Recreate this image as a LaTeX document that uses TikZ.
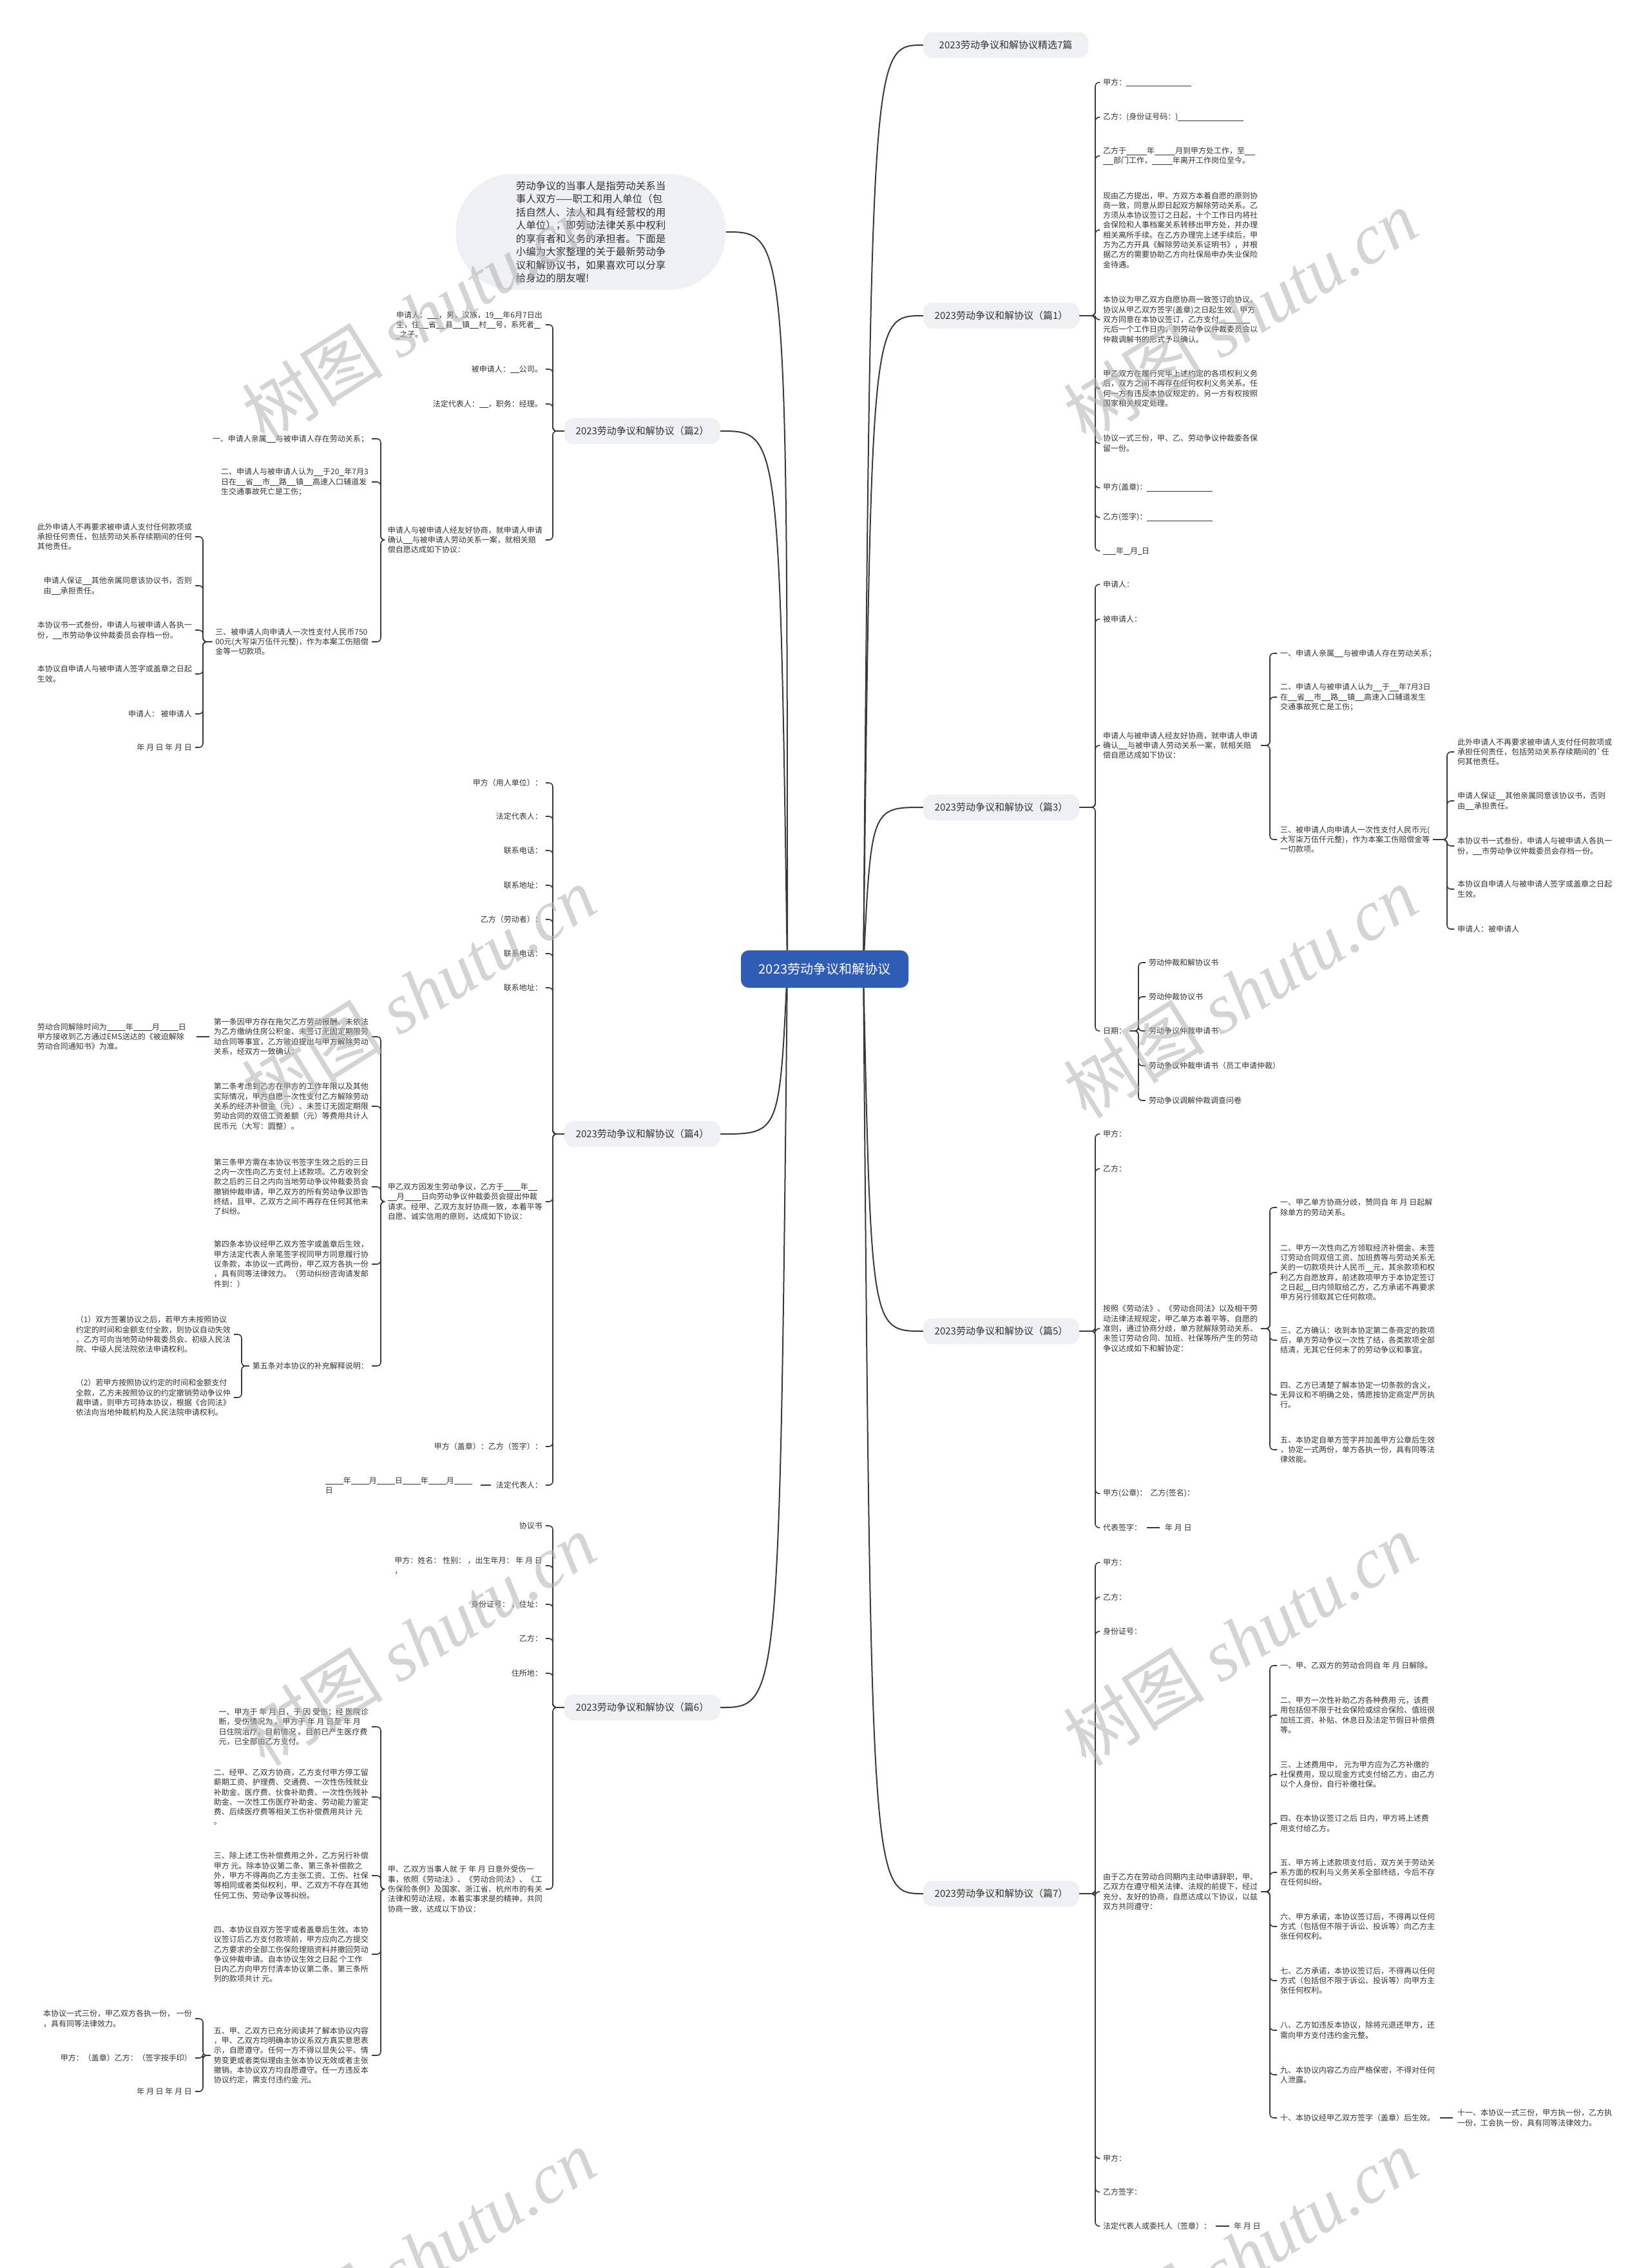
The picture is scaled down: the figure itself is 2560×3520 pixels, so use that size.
\documentclass[tikz,border=0pt]{standalone}
\usepackage{fontspec}
\setmainfont{Noto Sans CJK SC}
\newfontfamily\wmlatin{Liberation Serif}
\pgfdeclarelayer{bg}
\pgfsetlayers{bg,main}
\definecolor{txt}{HTML}{333333}
\definecolor{lnc}{HTML}{3A3A3A}
\definecolor{bgc}{HTML}{EEF0F3}
\definecolor{blu}{HTML}{2F5DB6}
\newcommand\blk[1]{\rule[-1.5pt]{#1pt}{0.6pt}}
\newcommand\rconn[3]{\draw[link] (#1.east) -- (#1.east -| #3) |- (#2.west);}
\newcommand\lconn[3]{\draw[link] (#1.west) -- (#1.west -| #3) |- (#2.east);}
\tikzset{
 leaf/.style={inner xsep=5pt, inner ysep=1pt, align=left, text=txt, font=\fontsize{12}{15.3}\selectfont},
 lr/.style={leaf, anchor=west},
 lf/.style={leaf, anchor=east},
 branch/.style={fill=bgc, rounded corners=14pt, minimum width=242pt, minimum height=40pt, text=txt, font=\fontsize{15}{18}\selectfont, inner sep=0pt},
 root/.style={fill=blu, text=white, rounded corners=12pt, minimum width=260pt, minimum height=58pt, font=\fontsize{20}{24}\selectfont},
 bubble/.style={fill=bgc, rounded corners=88pt, minimum width=419pt, minimum height=180pt, align=left, text=txt, font=\fontsize{15.5}{20.5}\selectfont},
 link/.style={draw=lnc, line width=1.6pt, rounded corners=6pt},
 mainlink/.style={draw=lnc, line width=2pt},
 wm/.style={text=black!30, opacity=0.55, font=\fontsize{110}{120}\selectfont, rotate=32}
}
\begin{document}
\begin{tikzpicture}[x=1pt,y=-1pt]
\useasboundingbox (0,0) rectangle (2560,3520);
% spines
\coordinate (s1) at (1700,0);
\coordinate (s2) at (1971,0);
\coordinate (s3) at (2246,0);
\coordinate (s4) at (1767,0);
\coordinate (t1) at (858,0);
\coordinate (t2) at (591,0);
\coordinate (t3) at (315,0);
\coordinate (t4) at (375,0);

% root, intro, branches
\node[root] (root) at (1280,1504) {2023劳动争议和解协议};
\node[bubble] (intro) at (917,360) {劳动争议的当事人是指劳动关系当\\事人双方——职工和用人单位（包\\括自然人、法人和具有经营权的用\\人单位），即劳动法律关系中权利\\的享有者和义务的承担者。下面是\\小编为大家整理的关于最新劳动争\\议和解协议书，如果喜欢可以分享\\给身边的朋友喔!};
\node[branch, minimum width=256pt] (top) at (1561,70) {2023劳动争议和解协议精选7篇};
\node[branch] (p1) at (1554,490) {2023劳动争议和解协议（篇1）};
\node[branch] (p3) at (1554,1253) {2023劳动争议和解协议（篇3）};
\node[branch] (p5) at (1554,2066) {2023劳动争议和解协议（篇5）};
\node[branch] (p7) at (1554,2939) {2023劳动争议和解协议（篇7）};
\node[branch] (p2) at (997,669) {2023劳动争议和解协议（篇2）};
\node[branch] (p4) at (997,1760) {2023劳动争议和解协议（篇4）};
\node[branch] (p6) at (997,2650) {2023劳动争议和解协议（篇6）};

% ---------- 篇1 ----------
\node[lr] (a1) at (1707,128) {甲方：\blk{101}};
\node[lr] (a2) at (1707,182) {乙方：(身份证号码：)\blk{102}};
\node[lr] (a3) at (1707,242) {乙方于\blk{32}年\blk{32}月到甲方处工作，至\blk{16}\\\blk{16}部门工作，\blk{32}年离开工作岗位至今。};
\node[lr] (a4) at (1707,357) {现由乙方提出，甲、方双方本着自愿的原则协\\商一致，同意从即日起双方解除劳动关系。乙\\方须从本协议签订之日起，十个工作日内将社\\会保险和人事档案关系转移出甲方处，并办理\\相关离所手续。在乙方办理完上述手续后，甲\\方为乙方开具《解除劳动关系证明书》，并根\\据乙方的需要协助乙方向社保局申办失业保险\\金待遇。};
\node[lr] (a5) at (1707,496) {本协议为甲乙双方自愿协商一致签订的协议。\\协议从甲乙双方签字(盖章)之日起生效。甲方\\双方同意在本协议签订，乙方支付\blk{48}\\元后一个工作日内，到劳动争议仲裁委员会以\\仲裁调解书的形式予以确认。};
\node[lr] (a6) at (1707,603) {甲乙双方在履行完毕上述约定的各项权利义务\\后，双方之间不再存在任何权利义务关系。任\\何一方有违反本协议规定的，另一方有权按照\\国家相关规定处理。};
\node[lr] (a7) at (1707,688) {协议一式三份，甲、乙、劳动争议仲裁委各保\\留一份。};
\node[lr] (a8) at (1707,757) {甲方(盖章)：\blk{102}};
\node[lr] (a9) at (1707,803) {乙方(签字)：\blk{102}};
\node[lr] (a10) at (1707,855) {\blk{20}年\blk{10}月\blk{6}日};

% ---------- 篇2 ----------
\node[lf] (b1) at (847,504) {申请人：\blk{18}，男，汉族，19\blk{14}年6月7日出\\生，住\blk{14}省\blk{14}县\blk{14}镇\blk{14}村\blk{14}号，系死者\blk{10}\\\blk{5}之子。};
\node[lf] (b2) at (847,573) {被申请人：\blk{14}公司。};
\node[lf] (b3) at (847,627) {法定代表人：\blk{14}，职务：经理。};
\node[lf] (b4) at (847,838) {申请人与被申请人经友好协商，就申请人申请\\确认\blk{14}与被申请人劳动关系一案，就相关赔\\偿自愿达成如下协议：};
\node[lf] (b4a) at (577,681) {一、申请人亲属\blk{14}与被申请人存在劳动关系；};
\node[lf] (b4b) at (577,748) {二、申请人与被申请人认为\blk{14}于20\blk{8}年7月3\\日在\blk{14}省\blk{14}市\blk{14}路\blk{14}镇\blk{14}高速入口辅道发\\生交通事故死亡是工伤；};
\node[lf] (b4c) at (577,996) {三、被申请人向申请人一次性支付人民币750\\00元(大写柒万伍仟元整)，作为本案工伤赔偿\\金等一切款项。};
\node[lf] (b4c1) at (303,833) {此外申请人不再要求被申请人支付任何款项或\\承担任何责任，包括劳动关系存续期间的任何\\其他责任。};
\node[lf] (b4c2) at (303,909) {申请人保证\blk{14}其他亲属同意该协议书，否则\\由\blk{14}承担责任。};
\node[lf] (b4c3) at (303,978) {本协议书一式叁份，申请人与被申请人各执一\\份，\blk{14}市劳动争议仲裁委员会存档一份。};
\node[lf] (b4c4) at (303,1046) {本协议自申请人与被申请人签字或盖章之日起\\生效。};
\node[lf] (b4c5) at (303,1108) {申请人：\ 被申请人};
\node[lf] (b4c6) at (303,1160) {年 月 日 年 月 日};

% ---------- 篇3 ----------
\node[lr] (c1) at (1707,907) {申请人：};
\node[lr] (c2) at (1707,961) {被申请人：};
\node[lr] (c3) at (1707,1157) {申请人与被申请人经友好协商，就申请人申请\\确认\blk{14}与被申请人劳动关系一案，就相关赔\\偿自愿达成如下协议：};
\node[lr] (c4) at (1707,1600) {日期：};
\node[lr] (c3a) at (1982,1014) {一、申请人亲属\blk{14}与被申请人存在劳动关系；};
\node[lr] (c3b) at (1982,1082) {二、申请人与被申请人认为\blk{14}于\blk{14}年7月3日\\在\blk{14}省\blk{14}市\blk{14}路\blk{14}镇\blk{14}高速入口辅道发生\\交通事故死亡是工伤；};
\node[lr] (c3c) at (1982,1303) {三、被申请人向申请人一次性支付人民币元(\\大写柒万伍仟元整)，作为本案工伤赔偿金等\\一切款项。};
\node[lr] (c3c1) at (2257,1167) {此外申请人不再要求被申请人支付任何款项或\\承担任何责任，包括劳动关系存续期间的\textasciigrave 任\\何其他责任。};
\node[lr] (c3c2) at (2257,1243) {申请人保证\blk{14}其他亲属同意该协议书，否则\\由\blk{14}承担责任。};
\node[lr] (c3c3) at (2257,1313) {本协议书一式叁份，申请人与被申请人各执一\\份，\blk{14}市劳动争议仲裁委员会存档一份。};
\node[lr] (c3c4) at (2257,1380) {本协议自申请人与被申请人签字或盖章之日起\\生效。};
\node[lr] (c3c5) at (2257,1442) {申请人：被申请人};
\node[lr] (c4a) at (1778,1494) {劳动仲裁和解协议书};
\node[lr] (c4b) at (1778,1547) {劳动仲裁协议书};
\node[lr] (c4c) at (1778,1600) {劳动争议仲裁申请书};
\node[lr] (c4d) at (1778,1654) {劳动争议仲裁申请书（员工申请仲裁）};
\node[lr] (c4e) at (1778,1708) {劳动争议调解仲裁调查问卷};

% ---------- 篇4 ----------
\node[lf] (d1) at (847,1215) {甲方（用人单位）：};
\node[lf] (d2) at (847,1267) {法定代表人：};
\node[lf] (d3) at (847,1320) {联系电话：};
\node[lf] (d4) at (847,1374) {联系地址：};
\node[lf] (d5) at (847,1427) {乙方（劳动者）：};
\node[lf] (d6) at (847,1480) {联系电话：};
\node[lf] (d7) at (847,1533) {联系地址：};
\node[lf] (d8) at (847,1865) {甲乙双方因发生劳动争议，乙方于\blk{26}年\blk{14}\\\blk{14}月\blk{26}日向劳动争议仲裁委员会提出仲裁\\请求。经甲、乙双方友好协商一致，本着平等\\自愿、诚实信用的原则，达成如下协议：};
\node[lf] (d9) at (847,2245) {甲方（盖章）：乙方（签字）：};
\node[lf] (d10) at (847,2305) {法定代表人：};
\node[lf] (d8a) at (577,1609) {第一条因甲方存在拖欠乙方劳动报酬、未依法\\为乙方缴纳住房公积金、未签订无固定期限劳\\动合同等事宜，乙方被迫提出与甲方解除劳动\\关系，经双方一致确认：};
\node[lf] (d8b) at (577,1717) {第二条考虑到乙方在甲方的工作年限以及其他\\实际情况，甲方自愿一次性支付乙方解除劳动\\关系的经济补偿金（元）、未签订无固定期限\\劳动合同的双倍工资差额（元）等费用共计人\\民币元（大写：圆整）。};
\node[lf] (d8c) at (577,1842) {第三条甲方需在本协议书签字生效之后的三日\\之内一次性向乙方支付上述款项。乙方收到全\\款之后的三日之内向当地劳动争议仲裁委员会\\撤销仲裁申请，甲乙双方的所有劳动争议即告\\终结，且甲、乙双方之间不再存在任何其他未\\了纠纷。};
\node[lf] (d8d) at (577,1962) {第四条本协议经甲乙双方签字或盖章后生效，\\甲方法定代表人亲笔签字视同甲方同意履行协\\议条款，本协议一式两份，甲乙双方各执一份\\，具有同等法律效力。（劳动纠纷咨询请发邮\\件到：）};
\node[lf] (d8e) at (577,2120) {第五条对本协议的补充解释说明：};
\node[lf] (d8a1) at (294,1609) {劳动合同解除时间为\blk{29}年\blk{29}月\blk{29}日\\甲方接收到乙方通过EMS送达的《被迫解除\\劳动合同通知书》为准。};
\node[lf] (d8e1) at (363,2071) {（1）双方签署协议之后，若甲方未按照协议\\约定的时间和金额支付全款，则协议自动失效\\，乙方可向当地劳动仲裁委员会、初级人民法\\院、中级人民法院依法申请权利。};
\node[lf] (d8e2) at (363,2169) {（2）若甲方按照协议约定的时间和金额支付\\全款，乙方未按照协议的约定撤销劳动争议仲\\裁申请，则甲方可持本协议，根据《合同法》\\依法向当地仲裁机构及人民法院申请权利。};
\node[lf] (d10a) at (738,2305) {\blk{28}年\blk{28}月\blk{28}日\blk{28}年\blk{28}月\blk{28}\\日};

% ---------- 篇5 ----------
\node[lr] (e1) at (1707,1760) {甲方：};
\node[lr] (e2) at (1707,1814) {乙方：};
\node[lr] (e3) at (1707,2062) {按照《劳动法》、《劳动合同法》以及相干劳\\动法律法规规定，甲乙单方本着平等、自愿的\\准则，通过协商分歧，单方就解除劳动关系、\\未签订劳动合同、加班、社保等所产生的劳动\\争议达成如下和解协定：};
\node[lr] (e4) at (1707,2318) {甲方(公章)：\ \ 乙方(签名)：};
\node[lr] (e5) at (1707,2371) {代表签字：};
\node[lr] (e5a) at (1803,2371) {年 月 日};
\node[lr] (e3a) at (1982,1874) {一、甲乙单方协商分歧，赞同自 年 月 日起解\\除单方的劳动关系。};
\node[lr] (e3b) at (1982,1975) {二、甲方一次性向乙方领取经济补偿金、未签\\订劳动合同双倍工资、加班费等与劳动关系无\\关的一切款项共计人民币\blk{12}元，其余款项和权\\利乙方自愿放弃，前述款项甲方于本协定签订\\之日起\blk{12}日内领取给乙方，乙方承诺不再要求\\甲方另行领取其它任何款项。};
\node[lr] (e3c) at (1982,2080) {三、乙方确认：收到本协定第二条商定的款项\\后，单方劳动争议一次性了结，各类款项全部\\结清，无其它任何未了的劳动争议和事宜。};
\node[lr] (e3d) at (1982,2165) {四、乙方已清楚了解本协定一切条款的含义，\\无异议和不明确之处，情愿按协定商定严厉执\\行。};
\node[lr] (e3e) at (1982,2250) {五、本协定自单方签字并加盖甲方公章后生效\\，协定一式两份，单方各执一份，具有同等法\\律效能。};

% ---------- 篇6 ----------
\node[lf] (g1) at (847,2368) {协议书};
\node[lf] (g2) at (847,2430) {甲方：姓名：\ 性别：\ ，出生年月：\ 年 月 日\\，};
\node[lf] (g3) at (847,2490) {身份证号：\ ，住址：};
\node[lf] (g4) at (847,2543) {乙方：};
\node[lf] (g5) at (847,2597) {住所地：};
\node[lf] (g6) at (847,2932) {甲、乙双方当事人就 于 年 月 日意外受伤一\\事，依照《劳动法》、《劳动合同法》、《工\\伤保险条例》及国家、浙江省、杭州市的有关\\法律和劳动法规，本着实事求是的精神，共同\\协商一致，达成以下协议：};
\node[lf] (g6a) at (577,2680) {一、甲方于 年 月 日，于 因 受伤；经 医院诊\\断，受伤情况为 。甲方于 年 月 日至 年 月\\日住院治疗，目前情况 。目前已产生医疗费\\元，已全部由乙方支付。};
\node[lf] (g6b) at (577,2789) {二、经甲、乙双方协商，乙方支付甲方停工留\\薪期工资、护理费、交通费、一次性伤残就业\\补助金、医疗费、伙食补助费、一次性伤残补\\助金、一次性工伤医疗补助金、劳动能力鉴定\\费、后续医疗费等相关工伤补偿费用共计 元\\。};
\node[lf] (g6c) at (577,2911) {三、除上述工伤补偿费用之外，乙方另行补偿\\甲方 元。除本协议第二条、第三条补偿款之\\外，甲方不得再向乙方主张工资、工伤、社保\\等相同或者类似权利，甲、乙双方不存在其他\\任何工伤、劳动争议等纠纷。};
\node[lf] (g6d) at (577,3033) {四、本协议自双方签字或者盖章后生效。本协\\议签订后乙方支付款项前，甲方应向乙方提交\\乙方要求的全部工伤保险理赔资料并撤回劳动\\争议仲裁申请。自本协议生效之日起 个工作\\日内乙方向甲方付清本协议第二条、第三条所\\列的款项共计 元。};
\node[lf] (g6e) at (577,3190) {五、甲、乙双方已充分阅读并了解本协议内容\\，甲、乙双方均明确本协议系双方真实意思表\\示，自愿遵守。任何一方不得以显失公平、情\\势变更或者类似理由主张本协议无效或者主张\\撤销。本协议双方均自愿遵守。任一方违反本\\协议约定，需支付违约金 元。};
\node[lf] (g6e1) at (303,3133) {本协议一式三份，甲乙双方各执一份，\ 一份\\，具有同等法律效力。};
\node[lf] (g6e2) at (303,3194) {甲方：（盖章）乙方：（签字按手印）};
\node[lf] (g6e3) at (303,3246) {年 月 日 年 月 日};

% ---------- 篇7 ----------
\node[lr] (f1) at (1707,2425) {甲方：};
\node[lr] (f2) at (1707,2479) {乙方：};
\node[lr] (f3) at (1707,2532) {身份证号：};
\node[lr] (f4) at (1707,2936) {由于乙方在劳动合同期内主动申请辞职，甲、\\乙双方在遵守相关法律、法规的前提下，经过\\充分、友好的协商，自愿达成以下协议，以兹\\双方共同遵守：};
\node[lr] (f5) at (1707,3350) {甲方：};
\node[lr] (f6) at (1707,3402) {乙方签字：};
\node[lr] (f7) at (1707,3455) {法定代表人或委托人（签章）：};
\node[lr] (f7a) at (1910,3455) {年 月 日};
\node[lr] (f4a) at (1982,2585) {一、甲、乙双方的劳动合同自 年 月 日解除。};
\node[lr] (f4b) at (1982,2662) {二、甲方一次性补助乙方各种费用 元，该费\\用包括但不限于社会保险或综合保险、值班很\\加班工资、补贴、休息日及法定节假日补偿费\\等。};
\node[lr] (f4c) at (1982,2754) {三、上述费用中， 元为甲方应为乙方补缴的\\社保费用，现以现金方式支付给乙方，由乙方\\以个人身份，自行补缴社保。};
\node[lr] (f4d) at (1982,2830) {四、在本协议签订之后 日内，甲方将上述费\\用支付给乙方。};
\node[lr] (f4e) at (1982,2906) {五、甲方将上述款项支付后，双方关于劳动关\\系方面的权利与义务关系全部终结，今后不存\\在任何纠纷。};
\node[lr] (f4f) at (1982,2990) {六、甲方承诺，本协议签订后，不得再以任何\\方式（包括但不限于诉讼、投诉等）向乙方主\\张任何权利。};
\node[lr] (f4g) at (1982,3074) {七、乙方承诺，本协议签订后，不得再以任何\\方式（包括但不限于诉讼、投诉等）向甲方主\\张任何权利。};
\node[lr] (f4h) at (1982,3151) {八、乙方如违反本协议，除将元退还甲方，还\\需向甲方支付违约金元整。};
\node[lr] (f4i) at (1982,3220) {九、本协议内容乙方应严格保密，不得对任何\\人泄露。};
\node[lr] (f4j) at (1982,3287) {十、本协议经甲乙双方签字（盖章）后生效。};
\node[lr] (f4j1) at (2257,3287) {十一、本协议一式三份，甲方执一份，乙方执\\一份，工会执一份，具有同等法律效力。};

% ---------- connectors ----------
\begin{pgfonlayer}{bg}
\fill[white] (0,0) rectangle (2560,3520);
% main curves
\draw[mainlink] (1340,1504) .. controls (1352,70) .. (top.west);
\foreach \b/\y in {p1/490,p3/1253,p5/2066,p7/2939}
  \draw[mainlink] (1340,1504) .. controls (1352,\y) .. (\b.west);
\foreach \b/\y in {p2/669,p4/1760,p6/2650}
  \draw[mainlink] (1222,1504) .. controls (1210,\y) .. (\b.east);
\draw[mainlink] (intro.east) .. controls (1222,360) .. (1222,1504);
% 篇1
\foreach \c in {a1,a2,a3,a4,a5,a6,a7,a8,a9,a10} {\rconn{p1}{\c}{s1}}
% 篇2
\foreach \c in {b1,b2,b3,b4} {\lconn{p2}{\c}{t1}}
\foreach \c in {b4a,b4b,b4c} {\lconn{b4}{\c}{t2}}
\foreach \c in {b4c1,b4c2,b4c3,b4c4,b4c5,b4c6} {\lconn{b4c}{\c}{t3}}
% 篇3
\foreach \c in {c1,c2,c3,c4} {\rconn{p3}{\c}{s1}}
\foreach \c in {c3a,c3b,c3c} {\rconn{c3}{\c}{s2}}
\foreach \c in {c3c1,c3c2,c3c3,c3c4,c3c5} {\rconn{c3c}{\c}{s3}}
\foreach \c in {c4a,c4b,c4c,c4d,c4e} {\rconn{c4}{\c}{s4}}
% 篇4
\foreach \c in {d1,d2,d3,d4,d5,d6,d7,d8,d9,d10} {\lconn{p4}{\c}{t1}}
\foreach \c in {d8a,d8b,d8c,d8d,d8e} {\lconn{d8}{\c}{t2}}
\foreach \c in {d8e1,d8e2} {\lconn{d8e}{\c}{t4}}
\draw[link] ([xshift=-2pt]d8a.west) -- ([xshift=11pt]d8a1.east);
\draw[link] ([xshift=-3pt]d10.west) -- ([xshift=8pt]d10a.east);
% 篇5
\foreach \c in {e1,e2,e3,e4,e5} {\rconn{p5}{\c}{s1}}
\foreach \c in {e3a,e3b,e3c,e3d,e3e} {\rconn{e3}{\c}{s2}}
\draw[link] ([xshift=3pt]e5.east) -- ([xshift=-3pt]e5a.west);
% 篇6
\foreach \c in {g1,g2,g3,g4,g5,g6} {\lconn{p6}{\c}{t1}}
\foreach \c in {g6a,g6b,g6c,g6d,g6e} {\lconn{g6}{\c}{t2}}
\foreach \c in {g6e1,g6e2,g6e3} {\lconn{g6e}{\c}{t3}}
% 篇7
\foreach \c in {f1,f2,f3,f4,f5,f6,f7} {\rconn{p7}{\c}{s1}}
\foreach \c in {f4a,f4b,f4c,f4d,f4e,f4f,f4g,f4h,f4i,f4j} {\rconn{f4}{\c}{s2}}
\draw[link] ([xshift=3pt]f4j.east) -- ([xshift=-2pt]f4j1.west);
\draw[link] ([xshift=2pt]f7.east) -- ([xshift=-2pt]f7a.west);
\end{pgfonlayer}

% ---------- watermarks ----------
\foreach \wx/\wy in {650/490,1925/490,650/1540,1925/1540,650/2545,1925/2545,650/3500,1925/3500}
  \node[wm, name=wm-\wx-\wy] at (\wx,\wy) {树图 {\wmlatin\itshape shutu.cn}};
\end{tikzpicture}
\end{document}
